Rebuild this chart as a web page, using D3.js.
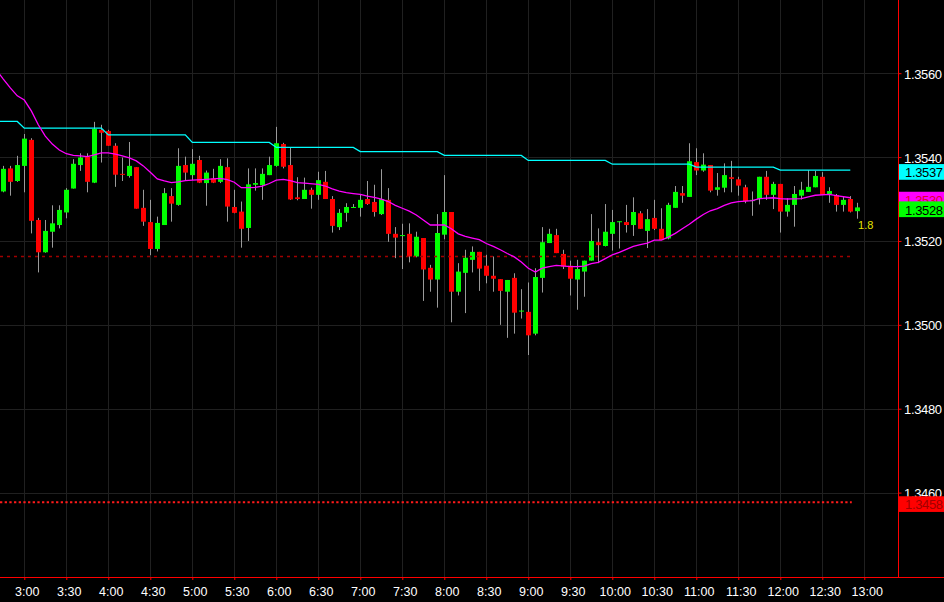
<!DOCTYPE html>
<html><head><meta charset="utf-8">
<script src="https://cdn.jsdelivr.net/npm/d3@7"></script>
<style>html,body{margin:0;padding:0;background:#000;overflow:hidden}</style>
</head><body><svg id="c" width="944" height="602"></svg>
<script>
// ---- data (5-minute candles) ----
const times = [
 "2:45","2:50","2:55",
 "3:00","3:05","3:10","3:15","3:20","3:25","3:30","3:35","3:40","3:45","3:50","3:55",
 "4:00","4:05","4:10","4:15","4:20","4:25","4:30","4:35","4:40","4:45","4:50","4:55",
 "5:00","5:05","5:10","5:15","5:20","5:25","5:30","5:35","5:40","5:45","5:50","5:55",
 "6:00","6:05","6:10","6:15","6:20","6:25","6:30","6:35","6:40","6:45","6:50","6:55",
 "7:00","7:05","7:10","7:15","7:20","7:25","7:30","7:35","7:40","7:45","7:50","7:55",
 "8:00","8:05","8:10","8:15","8:20","8:25","8:30","8:35","8:40","8:45","8:50","8:55",
 "9:00","9:05","9:10","9:15","9:20","9:25","9:30","9:35","9:40","9:45","9:50","9:55",
 "10:00","10:05","10:10","10:15","10:20","10:25","10:30","10:35","10:40","10:45","10:50","10:55",
 "11:00","11:05","11:10","11:15","11:20","11:25","11:30","11:35","11:40","11:45","11:50","11:55",
 "12:00","12:05","12:10","12:15","12:20","12:25","12:30","12:35","12:40","12:45","12:50","12:55"];
const opens = [
 1.35318,1.35373,1.35343,
 1.35379,1.35441,1.35250,1.35173,1.35222,1.35238,1.35268,1.35325,1.35381,1.35401,1.35339,1.35465,
 1.35462,1.35427,1.35360,1.35355,1.35376,1.35279,1.35245,1.35181,1.35238,1.35307,1.35286,1.35381,
 1.35357,1.35393,1.35338,1.35349,1.35341,1.35376,1.35281,1.35270,1.35231,1.35334,1.35333,1.35357,
 1.35379,1.35431,1.35381,1.35304,1.35300,1.35322,1.35310,1.35341,1.35300,1.35233,1.35267,1.35280,
 1.35279,1.35300,1.35293,1.35264,1.35298,1.35217,1.35213,1.35217,1.35163,1.35207,1.35136,1.35108,
 1.35215,1.35269,1.35079,1.35124,1.35155,1.35174,1.35141,1.35117,1.35109,1.35079,1.35112,1.35033,
 1.35031,1.34979,1.35112,1.35195,1.35214,1.35169,1.35141,1.35108,1.35127,1.35153,1.35197,1.35188,
 1.35217,1.35246,1.35245,1.35238,1.35266,1.35224,1.35255,1.35229,1.35206,1.35279,1.35314,1.35305,
 1.35388,1.35368,1.35381,1.35322,1.35327,1.35352,1.35347,1.35328,1.35295,1.35300,1.35353,1.35310,
 1.35336,1.35270,1.35286,1.35308,1.35317,1.35328,1.35353,1.35312,1.35309,1.35286,1.35300,1.35271];
const highs = [
 1.35379,1.35379,1.35403,
 1.35455,1.35445,1.35255,1.35250,1.35285,1.35285,1.35326,1.35395,1.35409,1.35409,1.35484,1.35477,
 1.35465,1.35433,1.35399,1.35436,1.35376,1.35322,1.35298,1.35258,1.35326,1.35326,1.35421,1.35401,
 1.35419,1.35403,1.35368,1.35372,1.35395,1.35397,1.35322,1.35294,1.35373,1.35373,1.35373,1.35401,
 1.35472,1.35434,1.35422,1.35352,1.35351,1.35327,1.35365,1.35367,1.35307,1.35276,1.35290,1.35288,
 1.35312,1.35343,1.35334,1.35371,1.35326,1.35233,1.35241,1.35242,1.35222,1.35207,1.35143,1.35264,
 1.35357,1.35269,1.35147,1.35179,1.35187,1.35174,1.35167,1.35163,1.35109,1.35107,1.35123,1.35085,
 1.35101,1.35135,1.35233,1.35229,1.35229,1.35179,1.35153,1.35155,1.35153,1.35264,1.35230,1.35288,
 1.35274,1.35247,1.35286,1.35304,1.35271,1.35276,1.35298,1.35278,1.35291,1.35331,1.35331,1.35433,
 1.35421,1.35409,1.35381,1.35362,1.35385,1.35391,1.35353,1.35334,1.35318,1.35353,1.35367,1.35341,
 1.35336,1.35302,1.35331,1.35341,1.35369,1.35367,1.35364,1.35328,1.35312,1.35305,1.35307,1.35291];
const lows = [
 1.35316,1.35308,1.35341,
 1.35316,1.35218,1.35125,1.35172,1.35184,1.35230,1.35254,1.35325,1.35367,1.35316,1.35338,1.35387,
 1.35427,1.35329,1.35343,1.35351,1.35277,1.35236,1.35166,1.35175,1.35238,1.35246,1.35284,1.35345,
 1.35345,1.35338,1.35284,1.35338,1.35338,1.35246,1.35266,1.35184,1.35200,1.35320,1.35298,1.35357,
 1.35377,1.35373,1.35298,1.35297,1.35300,1.35277,1.35298,1.35300,1.35220,1.35226,1.35246,1.35280,
 1.35258,1.35286,1.35258,1.35262,1.35198,1.35159,1.35133,1.35149,1.35161,1.35057,1.35079,1.35041,
 1.35204,1.35006,1.35070,1.35028,1.35125,1.35081,1.35099,1.35079,1.35000,1.34969,1.34979,1.35015,
 1.34928,1.34975,1.35077,1.35195,1.35171,1.35133,1.35070,1.35036,1.35067,1.35153,1.35147,1.35187,
 1.35177,1.35182,1.35220,1.35212,1.35229,1.35183,1.35226,1.35202,1.35204,1.35279,1.35291,1.35305,
 1.35357,1.35365,1.35316,1.35308,1.35316,1.35316,1.35308,1.35290,1.35260,1.35287,1.35298,1.35276,
 1.35220,1.35258,1.35234,1.35299,1.35317,1.35328,1.35310,1.35291,1.35270,1.35270,1.35268,1.35253];
const closes = [
 1.35372,1.35341,1.35381,
 1.35444,1.35248,1.35173,1.35224,1.35242,1.35274,1.35322,1.35384,1.35399,1.35341,1.35467,1.35458,
 1.35427,1.35358,1.35358,1.35379,1.35277,1.35246,1.35181,1.35243,1.35314,1.35289,1.35379,1.35363,
 1.35384,1.35339,1.35363,1.35339,1.35379,1.35282,1.35267,1.35229,1.35335,1.35338,1.35360,1.35381,
 1.35433,1.35377,1.35299,1.35300,1.35322,1.35310,1.35345,1.35300,1.35236,1.35267,1.35281,1.35281,
 1.35298,1.35288,1.35269,1.35300,1.35217,1.35208,1.35214,1.35163,1.35210,1.35132,1.35108,1.35219,
 1.35269,1.35079,1.35127,1.35160,1.35174,1.35134,1.35117,1.35110,1.35081,1.35107,1.35029,1.35034,
 1.34975,1.35114,1.35197,1.35217,1.35171,1.35139,1.35110,1.35133,1.35153,1.35200,1.35190,1.35222,
 1.35245,1.35247,1.35238,1.35269,1.35229,1.35252,1.35229,1.35202,1.35286,1.35317,1.35308,1.35390,
 1.35368,1.35382,1.35320,1.35328,1.35357,1.35348,1.35332,1.35295,1.35298,1.35353,1.35310,1.35336,
 1.35270,1.35286,1.35312,1.35322,1.35329,1.35355,1.35310,1.35319,1.35286,1.35298,1.35270,1.35280];

// magenta moving average
const magTimes = [
 "2:40","2:45","2:50","2:55",
 "3:00","3:05","3:10","3:15","3:20","3:25","3:30","3:35","3:40","3:45","3:50","3:55",
 "4:00","4:05","4:10","4:15","4:20","4:25","4:30","4:35","4:40","4:45","4:50","4:55",
 "5:00","5:10","5:20","5:25","5:30","5:35","5:40","5:45","5:50","5:55",
 "6:00","6:05","6:10","6:15","6:20","6:30","6:35","6:40","6:45","6:50","6:55",
 "7:00","7:05","7:10","7:15","7:20","7:25","7:30","7:35","7:40","7:45","7:50","7:55",
 "8:00","8:05","8:10","8:15","8:20","8:25","8:30","8:35","8:40","8:45","8:50","8:55",
 "9:00","9:05","9:10","9:15","9:20","9:30","9:35","9:40","9:45","9:50","9:55",
 "10:00","10:05","10:10","10:15","10:20","10:25","10:30","10:35","10:40","10:45","10:50","10:55",
 "11:00","11:05","11:10","11:15","11:20","11:25","11:30","11:40","11:45","11:55",
 "12:00","12:05","12:15","12:20","12:25","12:35","12:40","12:50"];
const magValues = [
 1.35608,1.35586,1.35565,1.35546,
 1.35536,1.35510,1.35477,1.35450,1.35431,1.35417,1.35408,1.35404,1.35403,1.35401,1.35405,1.35410,
 1.35410,1.35407,1.35403,1.35398,1.35391,1.35379,1.35364,1.35348,1.35343,1.35339,1.35341,1.35344,
 1.35345,1.35347,1.35349,1.35346,1.35340,1.35327,1.35327,1.35328,1.35331,1.35337,
 1.35345,1.35347,1.35344,1.35339,1.35338,1.35335,1.35331,1.35324,1.35319,1.35315,1.35313,
 1.35311,1.35307,1.35304,1.35300,1.35294,1.35285,1.35278,1.35271,1.35262,1.35250,1.35238,1.35238,
 1.35238,1.35229,1.35217,1.35211,1.35207,1.35203,1.35194,1.35187,1.35179,1.35170,1.35162,1.35150,
 1.35135,1.35126,1.35135,1.35139,1.35142,1.35139,1.35139,1.35140,1.35146,1.35149,1.35158,
 1.35167,1.35173,1.35180,1.35187,1.35191,1.35195,1.35202,1.35202,1.35209,1.35218,1.35229,1.35240,
 1.35252,1.35263,1.35272,1.35277,1.35285,1.35291,1.35294,1.35296,1.35301,1.35303,
 1.35301,1.35300,1.35301,1.35305,1.35309,1.35311,1.35308,1.35303];

// cyan hourly stepping line
const cyanStart = ["2:40","3:00","4:00","5:00","6:00","7:00","8:00","9:00","10:00","11:00","12:00"];
const cyanEnd   = ["2:55","3:55","4:55","5:55","6:55","7:55","8:55","9:55","10:55","11:55","12:50"];
const cyanValues = [1.35485,1.35469,1.35453,1.35435,1.35423,1.35413,1.35404,1.35392,1.35383,1.35376,1.35369];

// horizontal reference levels
const levelDarkRed = 1.35163;
const levelRed = 1.34577;
const annotation = "1.8";

const xTickLabels = ["3:00","3:30","4:00","4:30","5:00","5:30","6:00","6:30","7:00","7:30","8:00",
 "8:30","9:00","9:30","10:00","10:30","11:00","11:30","12:00","12:30","13:00"];
const yTicks = [1.3460,1.3480,1.3500,1.3520,1.3540,1.3560];

// ---- drawing ----
const FONT = "'Liberation Sans', Arial, sans-serif";
const W = 944, H = 602, plotRight = 898, plotBottom = 577;
const toMin = s => { const p = s.split(":").map(Number); return p[0]*60 + p[1]; };
const x = d3.scaleLinear().domain([180, 780]).range([24.3, 864.3]);
const y = d3.scaleLinear().domain([1.3460, 1.3560]).range([492.6, 73.2]);

const svg = d3.select("#c");
svg.append("rect").attr("width", W).attr("height", H).attr("fill", "#000");
svg.append("clipPath").attr("id", "clip").append("rect")
  .attr("x", 0).attr("y", 0).attr("width", plotRight).attr("height", plotBottom);

const plot = svg.append("g").attr("clip-path", "url(#clip)");

// grid
const xTickVals = xTickLabels.map(toMin);
plot.append("g").selectAll("line").data(xTickVals).join("line")
  .attr("x1", d => Math.round(x(d)) + 0.5).attr("x2", d => Math.round(x(d)) + 0.5)
  .attr("y1", 0).attr("y2", plotBottom).attr("stroke", "#202020").attr("stroke-width", 1);
plot.append("g").selectAll("line").data(yTicks).join("line")
  .attr("x1", 0).attr("x2", plotRight)
  .attr("y1", d => Math.round(y(d)) + 0.5).attr("y2", d => Math.round(y(d)) + 0.5)
  .attr("stroke", "#202020").attr("stroke-width", 1);

// candles
const candles = times.map((t, i) => ({t: toMin(t), o: opens[i], h: highs[i], l: lows[i], c: closes[i]}));
const cg = plot.append("g");
cg.selectAll("line").data(candles).join("line")
  .attr("x1", d => Math.round(x(d.t)) + 0.5).attr("x2", d => Math.round(x(d.t)) + 0.5)
  .attr("y1", d => y(d.h)).attr("y2", d => y(d.l))
  .attr("stroke", "#9a9a9a").attr("stroke-width", 1);
cg.selectAll("rect").data(candles).join("rect")
  .attr("x", d => Math.round(x(d.t)) - 2).attr("width", 5)
  .attr("y", d => Math.min(y(d.o), y(d.c)))
  .attr("height", d => Math.max(1, Math.abs(y(d.o) - y(d.c))))
  .attr("fill", d => d.c >= d.o ? "#00ff00" : "#ff0000");

const lastT = toMin(times[times.length - 1]);
const lineEnd = toMin(cyanEnd[cyanEnd.length - 1]);

// dotted reference levels
plot.append("line").attr("x1", 0).attr("x2", x(lineEnd) + 1)
  .attr("y1", y(levelDarkRed)).attr("y2", y(levelDarkRed))
  .attr("stroke", "#a00000").attr("stroke-width", 1.3).attr("stroke-dasharray", "3,4");
plot.append("line").attr("x1", 0).attr("x2", x(lineEnd) + 1.5)
  .attr("y1", y(levelRed)).attr("y2", y(levelRed))
  .attr("stroke", "#ff1a1a").attr("stroke-width", 2).attr("stroke-dasharray", "2.3,2.37");

// cyan line
const cyanPts = [];
cyanStart.forEach((s, i) => { cyanPts.push([toMin(s), cyanValues[i]]); cyanPts.push([toMin(cyanEnd[i]), cyanValues[i]]); });
plot.append("path").datum(cyanPts)
  .attr("d", d3.line().x(d => x(d[0])).y(d => y(d[1])))
  .attr("fill", "none").attr("stroke", "#00ffff").attr("stroke-width", 1.3);

// magenta line
plot.append("path").datum(magTimes.map((t, i) => [toMin(t), magValues[i]]))
  .attr("d", d3.line().x(d => x(d[0])).y(d => y(d[1])))
  .attr("fill", "none").attr("stroke", "#ff00ff").attr("stroke-width", 1.3);

// annotation
svg.append("text").attr("x", x(lastT) + 0.8).attr("y", y(lows[lows.length - 1]) + 10.5)
  .attr("fill", "#e6e600").attr("font-family", FONT).attr("font-size", 11).text(annotation);

// axes
const gx = svg.append("g").attr("transform", `translate(0,${plotBottom})`)
  .call(d3.axisBottom(x).tickValues(xTickVals).tickFormat((d, i) => xTickLabels[i])
    .tickSize(3).tickPadding(7).tickSizeOuter(0));
gx.select(".domain").remove();
gx.attr("font-family", FONT).attr("font-size", 12.5);
gx.selectAll("line").attr("stroke", "#ff0000");
gx.selectAll("text").attr("fill", "#ffffff").attr("dx", 2.4);

const gy = svg.append("g").attr("transform", `translate(${plotRight},0)`)
  .call(d3.axisRight(y).tickValues(yTicks).tickFormat(d3.format(".4f"))
    .tickSize(3.5).tickPadding(2.5).tickSizeOuter(0));
gy.select(".domain").remove();
gy.attr("font-family", FONT).attr("font-size", 13);
gy.selectAll("line").attr("stroke", "#ff0000");
gy.selectAll("text").attr("fill", "#ffffff").attr("dy", "0.38em").attr("letter-spacing", "-0.35");

svg.append("line").attr("x1", 0).attr("x2", W).attr("y1", plotBottom + 0.5).attr("y2", plotBottom + 0.5)
  .attr("stroke", "#ff0000").attr("stroke-width", 1);
svg.append("line").attr("x1", plotRight + 0.5).attr("x2", plotRight + 0.5).attr("y1", 0).attr("y2", plotBottom)
  .attr("stroke", "#ff0000").attr("stroke-width", 1);

// value boxes on the price axis
const fmt = d3.format(".4f");
const boxes = [
  {v: levelRed, bg: "#ff0000", fg: "#a00000"},
  {v: cyanValues[cyanValues.length - 1], bg: "#00ffff", fg: "#000000"},
  {v: magValues[magValues.length - 1], bg: "#ff00ff", fg: "#e00030"},
  {v: closes[closes.length - 1], bg: "#00ff00", fg: "#000000"}
];
const bg = svg.append("g");
boxes.forEach(b => {
  const top = y(b.v) - 6;
  bg.append("rect").attr("x", plotRight + 1).attr("y", top).attr("width", W - plotRight - 1).attr("height", 15.7)
    .attr("fill", b.bg);
  bg.append("text").attr("x", plotRight + 7).attr("y", top + 13.2)
    .attr("fill", b.fg).attr("font-family", FONT).attr("font-size", 13).attr("letter-spacing", "-0.35")
    .text(fmt(b.v));
});
</script>
</body></html>
